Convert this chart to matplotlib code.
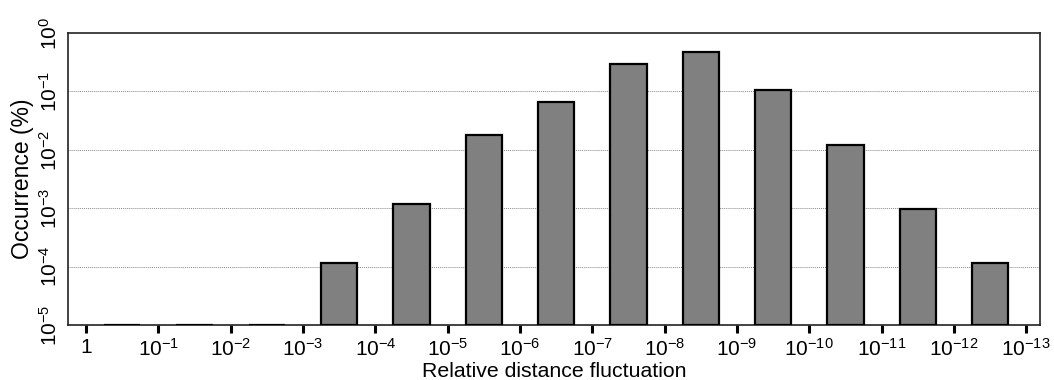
import matplotlib
matplotlib.use("Agg")
import matplotlib.pyplot as plt
import numpy as np

# Data
bin_labels = ["1", r"$10^{-1}$", r"$10^{-2}$", r"$10^{-3}$", r"$10^{-4}$", r"$10^{-5}$",
              r"$10^{-6}$", r"$10^{-7}$", r"$10^{-8}$", r"$10^{-9}$", r"$10^{-10}$",
              r"$10^{-11}$", r"$10^{-12}$", r"$10^{-13}$"]
occurrence = [1e-5, 1e-5, 1e-5, 1.17e-4, 1.17e-3, 1.8e-2, 6.7e-2, 0.30, 0.47, 0.105,
              1.22e-2, 0.98e-3, 1.17e-4]
ytick_vals = [1e-5, 1e-4, 1e-3, 1e-2, 1e-1, 1e0]
ytick_labels = [r"$10^{-5}$", r"$10^{-4}$", r"$10^{-3}$", r"$10^{-2}$", r"$10^{-1}$", r"$10^{0}$"]

plt.rcParams['font.family'] = ['Liberation Sans', 'DejaVu Sans']
plt.rcParams['mathtext.default'] = 'regular'

fig = plt.figure(figsize=(10.54, 3.8), dpi=100)
ax = fig.add_axes([0.0645, 0.1447, 0.9222, 0.7683])

ymin = 1e-5
x_edges = np.arange(len(bin_labels))
x_centers = x_edges[:-1] + 0.5
heights = np.array(occurrence) - ymin
ax.bar(x_centers, heights, bottom=ymin, width=0.5, color='#808080',
       edgecolor='black', linewidth=1.6, zorder=3)

ax.set_yscale('log')
ax.set_ylim(1e-5, 1e0)
ax.set_xlim(-0.25, 13.19)

for v in ytick_vals[1:-1]:
    ax.axhline(v, color='#8a8a8a', linestyle=(0, (1, 1)), linewidth=0.7, zorder=1)

ax.set_yticks(ytick_vals)
ax.set_yticklabels(ytick_labels, rotation=90, va='center', fontsize=15)
ax.yaxis.set_minor_locator(matplotlib.ticker.NullLocator())
ax.tick_params(axis='y', length=0, pad=5)

ax.set_xticks(x_edges)
ax.set_xticklabels(bin_labels, fontsize=15)
ax.tick_params(axis='x', direction='out', length=6, width=2.2, pad=3)

for s in ax.spines.values():
    s.set_color('#222222')
    s.set_linewidth(1.2)

ax.set_xlabel("Relative distance fluctuation", fontsize=15.3, labelpad=2)
ax.set_ylabel("Occurrence (%)", fontsize=16.5, labelpad=4)

fig.savefig("out.png", dpi=100)
